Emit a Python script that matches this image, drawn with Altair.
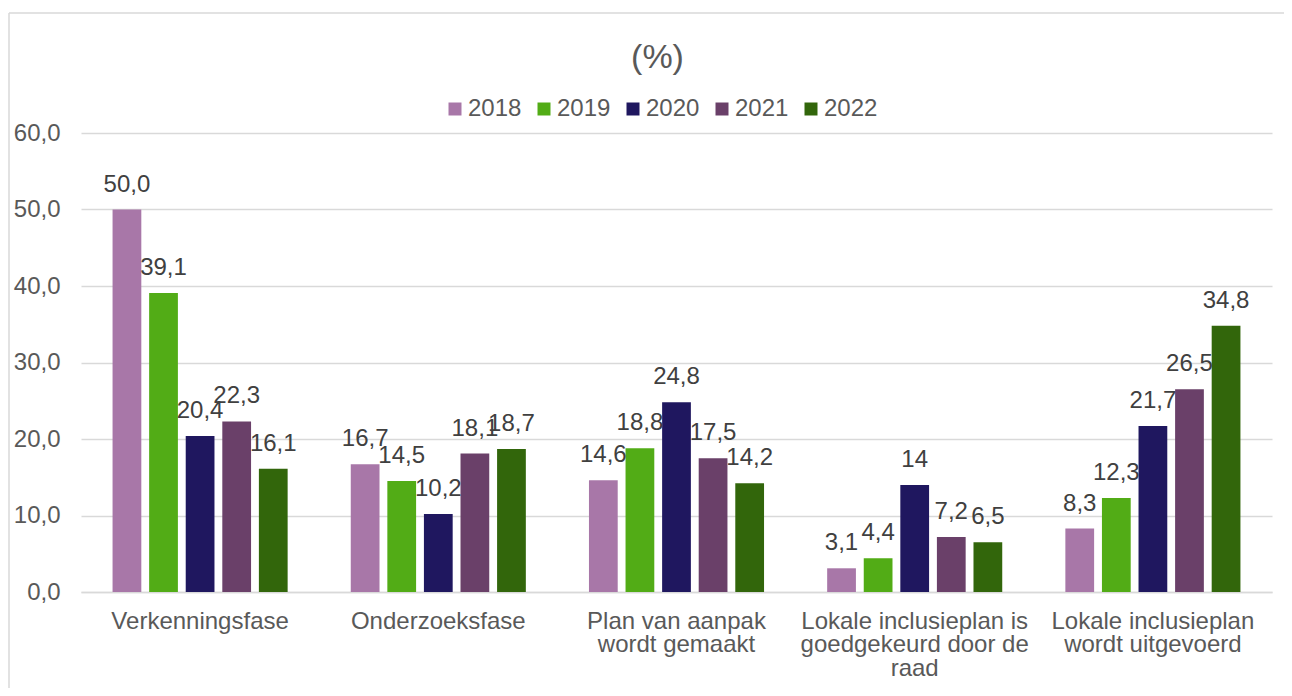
import altair as alt
import pandas as pd

FONT = "Liberation Sans"

categories = [
    "Verkenningsfase",
    "Onderzoeksfase",
    "Plan van aanpak\nwordt gemaakt",
    "Lokale inclusieplan is\ngoedgekeurd door de\nraad",
    "Lokale inclusieplan\nwordt uitgevoerd",
]
years = ["2018", "2019", "2020", "2021", "2022"]

values_2018 = [50.0, 16.7, 14.6, 3.1, 8.3]
values_2019 = [39.1, 14.5, 18.8, 4.4, 12.3]
values_2020 = [20.4, 10.2, 24.8, 14.0, 21.7]
values_2021 = [22.3, 18.1, 17.5, 7.2, 26.5]
values_2022 = [16.1, 18.7, 14.2, 6.5, 34.8]

labels_2018 = ["50,0", "16,7", "14,6", "3,1", "8,3"]
labels_2019 = ["39,1", "14,5", "18,8", "4,4", "12,3"]
labels_2020 = ["20,4", "10,2", "24,8", "14", "21,7"]
labels_2021 = ["22,3", "18,1", "17,5", "7,2", "26,5"]
labels_2022 = ["16,1", "18,7", "14,2", "6,5", "34,8"]

colors = ["#A877A8", "#52AC16", "#1F175F", "#6A4069", "#32660B"]

series_values = [values_2018, values_2019, values_2020, values_2021, values_2022]
series_labels = [labels_2018, labels_2019, labels_2020, labels_2021, labels_2022]

rows = []
for y, vals, labs in zip(years, series_values, series_labels):
    for c, v, l in zip(categories, vals, labs):
        rows.append({"category": c, "year": y, "value": v, "label": l})
df = pd.DataFrame(rows)

base = alt.Chart(df).encode(
    x=alt.X(
        "category:N",
        sort=categories,
        title=None,
        scale=alt.Scale(paddingInner=0.265, paddingOuter=0.1325),
        axis=alt.Axis(
            labelAngle=0,
            labelExpr="split(datum.label, '\\n')",
            labelFont=FONT,
            labelFontSize=24,
            labelLineHeight=23.5,
            labelColor="#595959",
            labelPadding=17,
            labelLimit=400,
            ticks=False,
            domainColor="#D9D9D9",
            domainWidth=1.3,
            grid=False,
        ),
    ),
    xOffset=alt.XOffset(
        "year:N", sort=years, scale=alt.Scale(paddingInner=0.214, paddingOuter=0)
    ),
    y=alt.Y(
        "value:Q",
        title=None,
        scale=alt.Scale(domain=[0, 60]),
        axis=alt.Axis(
            values=[0, 10, 20, 30, 40, 50, 60],
            labelExpr="replace(format(datum.value, '.1f'), '.', ',')",
            labelFont=FONT,
            labelFontSize=24,
            labelColor="#595959",
            labelPadding=21,
            ticks=False,
            domain=False,
            gridColor="#D9D9D9",
            gridWidth=1.3,
        ),
    ),
)

bars = base.mark_bar().encode(
    color=alt.Color(
        "year:N",
        scale=alt.Scale(domain=years, range=colors),
        legend=alt.Legend(
            title=None,
            orient="none",
            direction="horizontal",
            legendX=362,
            legendY=-36,
            symbolType="square",
            symbolSize=169,
            symbolStrokeWidth=0,
            labelFont=FONT,
            labelFontSize=24,
            labelColor="#595959",
            labelOffset=1,
            columnPadding=10,
        ),
    )
)

text = base.mark_text(
    dy=-18, baseline="alphabetic", fontSize=24, font=FONT, color="#404040"
).encode(text="label:N")

border_left = (
    alt.Chart(alt.Data(values=[{}]))
    .mark_rule(color="#D9D9D9", strokeWidth=1.5)
    .encode(x=alt.value(-72), y=alt.value(-120), y2=alt.value(700))
)
border_top = (
    alt.Chart(alt.Data(values=[{}]))
    .mark_rule(color="#D9D9D9", strokeWidth=1.5)
    .encode(x=alt.value(-72), x2=alt.value(1300), y=alt.value(-120))
)

chart = (
    alt.layer(border_left, border_top, bars, text)
    .properties(
        width=1191,
        height=459,
        title=alt.TitleParams(
            "(%)",
            font=FONT,
            fontSize=34,
            fontWeight="normal",
            color="#595959",
            anchor="middle",
            frame="group",
            dx=-19,
            offset=-63,
        ),
        autosize=alt.AutoSizeParams(type="none"),
        padding={"left": 73, "top": 125, "right": 12, "bottom": 96},
    )
    .configure_view(stroke=None)
)

chart.save("out.html", embed_options={"renderer": "svg", "actions": False})
